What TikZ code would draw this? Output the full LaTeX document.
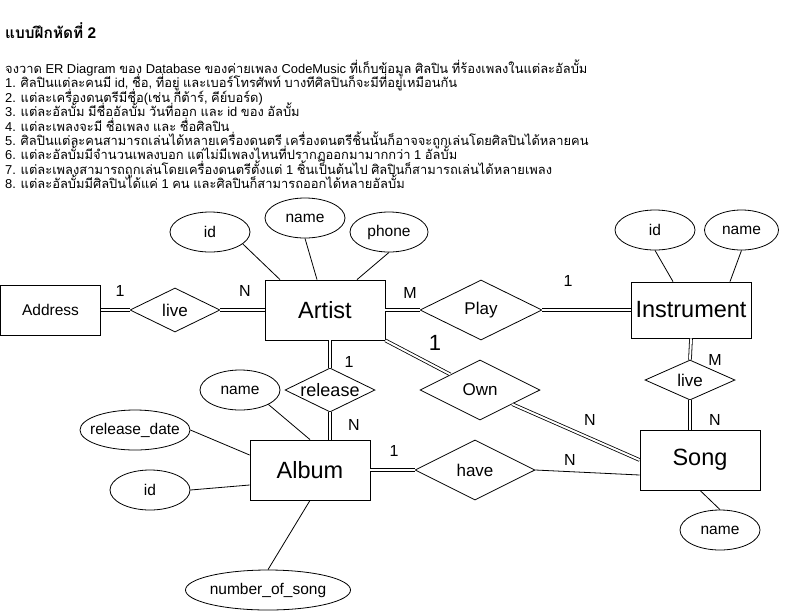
\documentclass[tikz,border=0pt]{standalone}
\usepackage{fontspec}
\setmainfont{Liberation Sans}
\newfontfamily\thaifont[Script=Thai]{Loma}
\newfontfamily\latinfont{Liberation Sans}
\usetikzlibrary{shapes.geometric}
\XeTeXinterchartokenstate=1
\newXeTeXintercharclass\thaicls
\newcount\tmpc
\tmpc="0E00
\loop \XeTeXcharclass\tmpc=\thaicls \advance\tmpc by 1 \ifnum\tmpc<"0E80 \repeat
\XeTeXinterchartoks 0 \thaicls = {\thaifont}
\XeTeXinterchartoks 4095 \thaicls = {\thaifont}
\XeTeXinterchartoks \thaicls 0 = {\latinfont}
\XeTeXinterchartoks \thaicls 4095 = {\latinfont}
\tikzset{
  entity/.style={draw, rectangle, line width=0.8pt, minimum width=120pt, minimum height=60pt, inner sep=0pt, font=\fontsize{23.5}{26}\selectfont},
  attr/.style={draw, ellipse, line width=0.8pt, minimum width=80pt, minimum height=40pt, inner sep=0pt, font=\fontsize{15.5}{18}\selectfont},
  rel/.style={draw, diamond, aspect=2, line width=0.8pt, inner sep=0pt, font=\fontsize{17}{20}\selectfont},
  card/.style={inner sep=0pt, font=\fontsize{16}{19}\selectfont},
  dbl/.style={double, double distance=2pt, line width=0.8pt},
  conn/.style={line width=0.8pt},
  txt/.style={anchor=base west, inner sep=0pt, font=\fontsize{12.9}{14}\selectfont}
}
\begin{document}
\begin{tikzpicture}[x=1pt,y=-1pt]
\useasboundingbox (0,0) rectangle (786,611);
% header text
\node[txt, font=\bfseries\fontsize{15.4}{17}\selectfont] (title) at (5,38.5) {แบบฝึกหัดที่ 2};
\node[txt] (l0) at (5,73.5) {จงวาด ER Diagram ของ Database ของค่ายเพลง CodeMusic ที่เก็บข้อมูล ศิลปิน ที่ร้องเพลงในแต่ละอัลบั้ม};
\node[txt] (l1) at (5,87.9) {1. ศิลปินแต่ละคนมี id, ชื่อ, ที่อยู่ และเบอร์โทรศัพท์ บางทีศิลปินก็จะมีที่อยู่เหมือนกัน};
\node[txt] (l2) at (5,102.3) {2. แต่ละเครื่องดนตรีมีชื่อ(เช่น กีต้าร์, คีย์บอร์ด)};
\node[txt] (l3) at (5,116.7) {3. แต่ละอัลบั้ม มีชื่ออัลบั้ม วันที่ออก และ id ของ อัลบั้ม};
\node[txt] (l4) at (5,131.1) {4. แต่ละเพลงจะมี ชื่อเพลง และ ชื่อศิลปิน};
\node[txt] (l5) at (5,145.5) {5. ศิลปินแต่ละคนสามารถเล่นได้หลายเครื่องดนตรี เครื่องดนตรีชิ้นนั้นก็อาจจะถูกเล่นโดยศิลปินได้หลายคน};
\node[txt] (l6) at (5,159.9) {6. แต่ละอัลบั้มมีจำนวนเพลงบอก แต่ไม่มีเพลงไหนที่ปรากฏออกมามากกว่า 1 อัลบั้ม};
\node[txt] (l7) at (5,174.3) {7. แต่ละเพลงสามารถถูกเล่นโดยเครื่องดนตรีตั้งแต่ 1 ชิ้นเป็นต้นไป ศิลปินก็สามารถเล่นได้หลายเพลง};
\node[txt] (l8) at (5,188.7) {8. แต่ละอัลบั้มมีศิลปินได้แค่ 1 คน และศิลปินก็สามารถออกได้หลายอัลบั้ม};
% entities
\node[entity, minimum width=100pt, minimum height=50pt, font=\fontsize{15.5}{18}\selectfont] (addr) at (50.5,310) {Address};
\node[entity] (artist) at (325,310) {Artist};
\node[entity, minimum height=56pt] (instr) at (691,310) {Instrument};
\node[entity] (album) at (310,470) {Album};
\node[entity] (song) at (700,460) {Song};
% relationships
\node[rel, minimum width=90pt, minimum height=44pt] (live) at (175,310) {live};
\node[rel, minimum width=122pt, minimum height=60pt] (play) at (481,310) {Play};
\node[rel, minimum width=90pt, minimum height=44pt, font=\fontsize{18}{20}\selectfont] (release) at (330,390) {release};
\node[rel, minimum width=120pt, minimum height=60pt] (own) at (480,390) {Own};
\node[rel, minimum width=90pt, minimum height=40pt] (live2) at (690,380) {live};
\node[rel, minimum width=120pt, minimum height=60pt] (have) at (475,470) {have};
% attributes
\node[attr] (aid) at (210,232) {id};
\node[attr] (aname) at (305,218) {name};
\node[attr, minimum width=78pt] (aphone) at (389,232) {phone};
\node[attr] (iid) at (655,230) {id};
\node[attr, minimum width=74pt] (iname) at (741.5,230) {name};
\node[attr] (alname) at (240,390) {name};
\node[attr, minimum width=110pt, inner xsep=-6pt] (rdate) at (135,430) {release\_date};
\node[attr] (alid) at (150,490) {id};
\node[attr, minimum width=165pt, inner xsep=-2pt] (nos) at (268,590) {number\_of\_song};
\node[attr] (sname) at (720,530) {name};
% double connectors
\draw[dbl] (addr) -- (live);
\draw[dbl] (live) -- (artist);
\draw[dbl] (artist) -- (play);
\draw[dbl] (play) -- (instr);
\draw[dbl] (release.north |- artist.south) -- (release.north);
\draw[dbl] (release.south) -- (release.south |- album.north);
\draw[dbl] (artist.south east) -- (own);
\draw[dbl] (own) -- (song.west);
\draw[dbl] (instr.south) -- (live2.north);
\draw[dbl] (live2.south) -- (live2.south |- song.north);
\draw[dbl] (album) -- (have);
% single connectors
\draw[conn] (have.east) -- ([yshift=-15pt]song.west);
\draw[conn] (aid.-20) -- ([xshift=-45pt]artist.north);
\draw[conn] (aname.south) -- ([xshift=-8pt]artist.north);
\draw[conn] (aphone.south) -- ([xshift=32pt]artist.north);
\draw[conn] (iid.south) -- ([xshift=-18pt]instr.north);
\draw[conn] (iname.south) -- ([xshift=39pt]instr.north);
\draw[conn] (alname.-27) -- (album.north);
\draw[conn] (rdate.east) -- ([yshift=15pt]album.west);
\draw[conn] (alid.east) -- ([yshift=-15pt]album.west);
\draw[conn] (nos.north) -- (album.south);
\draw[conn] (song.south) -- (sname.north);
% cardinalities
\node[card] (c1) at (120,291) {1};
\node[card] (c2) at (245,291) {N};
\node[card] (c3) at (410,293) {M};
\node[card] (c4) at (568,281) {1};
\node[card, font=\fontsize{22}{24}\selectfont] (c5) at (435,343) {1};
\node[card] (c6) at (349,362) {1};
\node[card] (c7) at (354,425) {N};
\node[card] (c8) at (394,451) {1};
\node[card] (c9) at (570,460) {N};
\node[card] (c10) at (590,420) {N};
\node[card] (c11) at (715,360) {M};
\node[card] (c12) at (715,420) {N};
\end{tikzpicture}
\end{document}
